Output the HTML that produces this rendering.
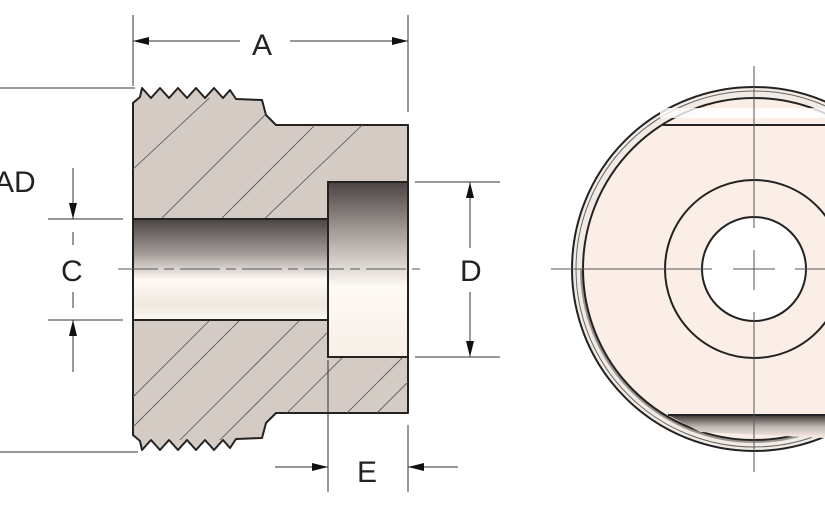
<!DOCTYPE html>
<html><head><meta charset="utf-8"><style>
html,body{margin:0;padding:0;background:#fff;width:825px;height:510px;overflow:hidden}
svg{display:block}
text{font-family:"Liberation Sans",sans-serif;font-size:30px;fill:#222}
</style></head><body>
<svg width="825" height="510" viewBox="0 0 825 510" xmlns="http://www.w3.org/2000/svg">
<defs>
<linearGradient id="bore" x1="0" y1="0" x2="0" y2="1">
<stop offset="0" stop-color="#4a4442"/><stop offset="0.35" stop-color="#a59d9a"/><stop offset="0.6" stop-color="#fffaf5"/><stop offset="0.85" stop-color="#f0e8e0"/><stop offset="1" stop-color="#fdf8f2"/></linearGradient>
<linearGradient id="cb" x1="0" y1="0" x2="0" y2="1">
<stop offset="0" stop-color="#4a4442"/><stop offset="0.3" stop-color="#a9a19d"/><stop offset="0.6" stop-color="#fffaf5"/><stop offset="1" stop-color="#f7efe7"/></linearGradient>
<linearGradient id="flat" x1="0" y1="0" x2="0" y2="1">
<stop offset="0" stop-color="#3a3432"/><stop offset="0.5" stop-color="#bdb5b0"/><stop offset="1" stop-color="#fbeee6"/></linearGradient>
<clipPath id="body"><path d="M133,98 L232,98 L262,100 L266,115 L276,125 L408,125 L408,413 L276,413 L266,423 L262,438 L232,440 L133,440 Z"/></clipPath>
</defs>
<!-- left view body -->
<path d="M133,103 L140,97 L142,88 L151,98 L160,88 L169,98 L178,88 L187,98 L196,88 L205,98 L214,88 L223,98 L230,90 L236,99 L262,100 L266,115 L276,125 L408,125 L408,413 L276,413 L266,423 L262,438 L236,439 L230,448 L223,440 L214,450 L205,440 L196,450 L187,440 L178,450 L169,440 L160,450 L151,440 L142,450 L140,441 L133,435 Z" fill="#d4cbc5" stroke="#222" stroke-width="2" stroke-linejoin="round"/>
<!-- hatch -->
<g clip-path="url(#body)" stroke="#555" stroke-width="0.8">
<line x1="100" y1="200" x2="250" y2="60"/><line x1="100" y1="280" x2="320" y2="60"/>
<line x1="140" y1="300" x2="380" y2="60"/><line x1="180" y1="300" x2="430" y2="60"/>
<line x1="120" y1="440" x2="260" y2="300"/><line x1="160" y1="460" x2="330" y2="290"/>
<line x1="190" y1="470" x2="360" y2="300"/><line x1="230" y1="470" x2="420" y2="280"/>
<line x1="300" y1="460" x2="420" y2="340"/><line x1="350" y1="440" x2="420" y2="370"/>
<line x1="100" y1="430" x2="240" y2="290"/>
</g>
<rect x="328" y="182" width="80" height="175" fill="url(#cb)" stroke="#222" stroke-width="2"/>
<rect x="133" y="219" width="195" height="101" fill="url(#bore)" stroke="#222" stroke-width="2"/>
<line x1="118" y1="269" x2="420" y2="269" stroke="#555" stroke-width="1" stroke-dasharray="40,6,10,6"/>
<!-- dims -->
<g stroke="#333" stroke-width="1" fill="none">
<line x1="133" y1="15" x2="133" y2="86"/><line x1="408" y1="15" x2="408" y2="112"/>
<line x1="133" y1="41" x2="240" y2="41"/><line x1="290" y1="41" x2="408" y2="41"/>
<line x1="0" y1="88" x2="135" y2="88"/><line x1="0" y1="452" x2="138" y2="452"/>
<line x1="48" y1="219" x2="123" y2="219"/><line x1="48" y1="320" x2="123" y2="320"/>
<line x1="73" y1="168" x2="73" y2="219"/><line x1="73" y1="320" x2="73" y2="372"/>
<line x1="73" y1="232" x2="73" y2="245"/><line x1="73" y1="292" x2="73" y2="308"/>
<line x1="415" y1="182" x2="500" y2="182"/><line x1="415" y1="357" x2="500" y2="357"/>
<line x1="470" y1="182" x2="470" y2="248"/><line x1="470" y1="292" x2="470" y2="357"/>
<line x1="328" y1="360" x2="328" y2="492"/><line x1="408" y1="425" x2="408" y2="492"/>
<line x1="275" y1="467" x2="328" y2="467"/><line x1="408" y1="467" x2="458" y2="467"/>
</g>
<g fill="#111">
<path d="M133,41 l16,-4 l0,8z"/><path d="M408,41 l-16,-4 l0,8z"/>
<path d="M73,219 l-4,-16 l8,0z"/><path d="M73,320 l-4,16 l8,0z"/>
<path d="M470,182 l-4,16 l8,0z"/><path d="M470,357 l-4,-16 l8,0z"/>
<path d="M328,467 l-16,-4 l0,8z"/><path d="M408,467 l16,-4 l0,8z"/>
</g>
<text x="252" y="55">A</text>
<text x="-6" y="192">AD</text>
<text x="61" y="281">C</text>
<text x="460" y="281">D</text>
<text x="357" y="482">E</text>
<!-- right view -->
<circle cx="754" cy="269" r="182" fill="#f2ebe5" stroke="#222" stroke-width="2"/>
<circle cx="754" cy="269" r="178" fill="none" stroke="#666" stroke-width="1"/>
<path d="M583,269 A171,171 0 0 0 925,269" fill="none" stroke="#9a928d" stroke-width="6"/>
<circle cx="754" cy="269" r="171" fill="#fbeee6" stroke="#222" stroke-width="2"/>
<rect x="660" y="108" width="180" height="10" fill="#fff" opacity="0.8"/>
<line x1="663" y1="125" x2="825" y2="125" stroke="#222" stroke-width="2"/>
<path d="M668,415 L825,415 L825,438 L700,432 Z" fill="url(#flat)"/>
<line x1="668" y1="415" x2="825" y2="415" stroke="#222" stroke-width="2"/>
<circle cx="754" cy="269" r="89" fill="none" stroke="#222" stroke-width="2"/>
<circle cx="754" cy="269" r="52" fill="#fff" stroke="#222" stroke-width="2"/>
<g stroke="#555" stroke-width="1">
<line x1="551" y1="269" x2="712" y2="269"/><line x1="733" y1="269" x2="775" y2="269"/><line x1="795" y1="269" x2="825" y2="269"/>
<line x1="754" y1="66" x2="754" y2="228"/><line x1="754" y1="250" x2="754" y2="290"/><line x1="754" y1="312" x2="754" y2="472"/>
</g>
</svg>
</body></html>
